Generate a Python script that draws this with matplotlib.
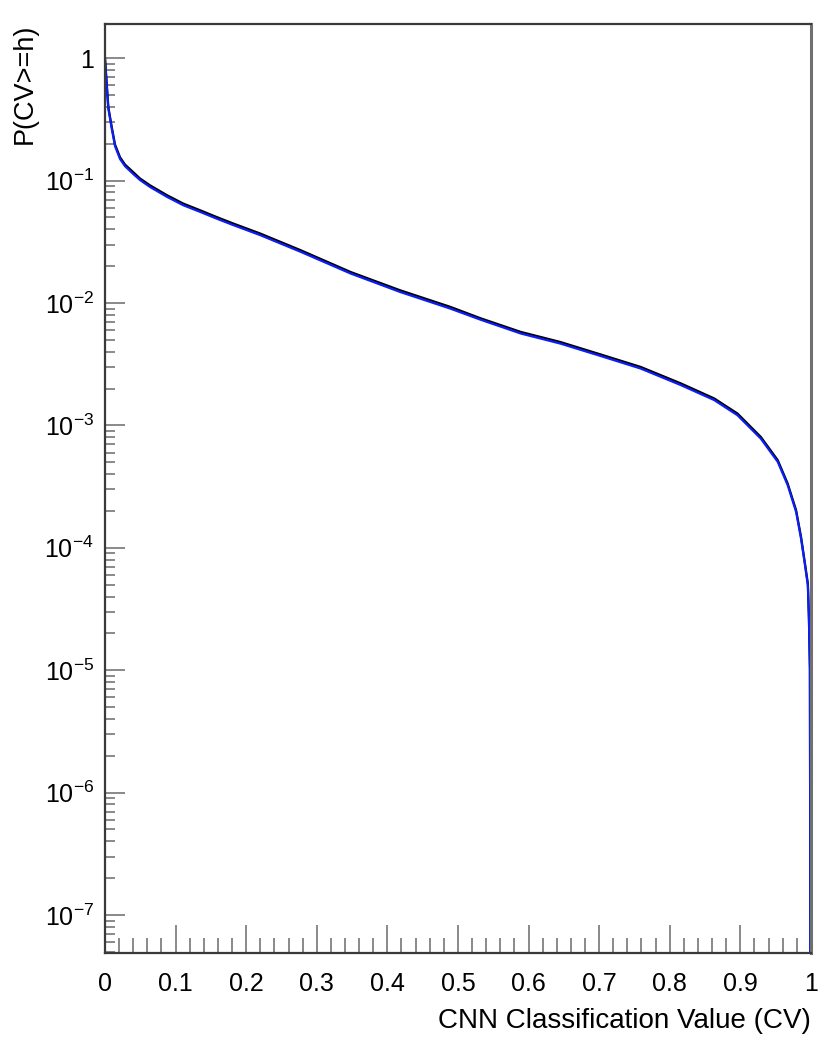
"""
CNN 分类值的累积分布 P(CV>=h)，ROOT 风格
"""

import math

import matplotlib
matplotlib.use('Agg')

import matplotlib.pyplot as plt
from matplotlib.ticker import FixedLocator, FuncFormatter, LogLocator, MultipleLocator, NullFormatter

plt.rcParams['font.family'] = ['Liberation Sans', 'DejaVu Sans']
plt.rcParams['mathtext.default'] = 'regular'

# 数据
cv = [0.0, 0.0024, 0.0047, 0.0095, 0.0142, 0.0213, 0.0284, 0.0401, 0.0496,
      0.0638, 0.0882, 0.111, 0.135, 0.158, 0.182, 0.220, 0.277, 0.348,
      0.418, 0.489, 0.532, 0.589, 0.645, 0.702, 0.759, 0.816, 0.863, 0.896,
      0.929, 0.953, 0.967, 0.979, 0.986, 0.9915, 0.9957, 0.9972, 0.9986, 1.0]
p_black = [1.0, 0.625, 0.40, 0.275, 0.197, 0.155, 0.135, 0.117, 0.104,
           0.0914, 0.0757, 0.0648, 0.0571, 0.0504, 0.0445, 0.0369, 0.027,
           0.0179, 0.0127, 0.0093, 0.0075, 0.0058, 0.0048, 0.0038, 0.0030,
           0.0022, 0.00166, 0.00125, 0.000805, 0.00052, 0.000336, 0.000203,
           0.000123, 7.5e-5, 5.1e-5, 2.7e-5, 1.05e-5, 1e-10]
p_blue = [0.97, 0.605, 0.388, 0.267, 0.191, 0.150, 0.131, 0.113, 0.101,
          0.0886, 0.0734, 0.0628, 0.0554, 0.0489, 0.0432, 0.0358, 0.0262,
          0.0174, 0.0123, 0.0090, 0.0073, 0.00563, 0.00466, 0.00369, 0.00291,
          0.00213, 0.00161, 0.00121, 0.00078, 0.000504, 0.000326, 0.000197,
          0.000119, 7.3e-5, 4.9e-5, 2.6e-5, 1.0e-5, 1e-10]

x_major = [0.0, 0.1, 0.2, 0.3, 0.4, 0.5, 0.6, 0.7, 0.8, 0.9, 1.0]
y_major = [1e-7, 1e-6, 1e-5, 1e-4, 1e-3, 1e-2, 1e-1, 1.0]

COLOR_FRAME = '#3a3a3a'
COLOR_TICK = '#808080'
COLOR_BLUE = '#0a1ef5'

fig = plt.figure(figsize=(8.3, 10.53), dpi=100)
ax = fig.add_axes([0.1265, 0.095, 0.8505, 0.8822])

ax.plot(cv, p_black, color='black', linewidth=1.6)
ax.plot(cv, p_blue, color=COLOR_BLUE, linewidth=1.6)

ax.set_yscale('log')
ax.set_xlim(0, 1)
ax.set_ylim(4.9e-8, 1.9)

# 坐标轴刻度
ax.xaxis.set_major_locator(FixedLocator(x_major))
ax.xaxis.set_minor_locator(MultipleLocator(0.02))
ax.xaxis.set_major_formatter(FuncFormatter(lambda v, pos: f'{v:g}'))

ax.yaxis.set_major_locator(FixedLocator(y_major))
ax.yaxis.set_minor_locator(LogLocator(base=10, subs=range(2, 10), numticks=20))
ax.yaxis.set_minor_formatter(NullFormatter())


def fmt_log(v, pos):
    e = round(math.log10(v))
    if e == 0:
        return '1'
    return r'$10^{%d}$' % e


ax.yaxis.set_major_formatter(FuncFormatter(fmt_log))

ax.tick_params(axis='both', which='both', direction='in', color=COLOR_TICK,
               width=1.3, labelsize=18, top=False, right=False)
ax.tick_params(axis='x', which='major', length=20, pad=14)
ax.tick_params(axis='x', which='minor', length=10.5)
ax.tick_params(axis='y', which='major', length=14.5, pad=8)
ax.tick_params(axis='y', which='minor', length=7.2)

for side, sp in ax.spines.items():
    sp.set_color(COLOR_FRAME)
    sp.set_linewidth(1.6)
ax.spines['right'].set_color('#707070')
ax.spines['right'].set_linewidth(2.2)

# 轴标题（右/上对齐）
ax.set_xlabel('CNN Classification Value (CV)', fontsize=20, loc='right', labelpad=8)
ax.set_ylabel('P(CV>=h)', fontsize=19.5, loc='top', labelpad=5)

fig.savefig('out.png', dpi=100, facecolor='white')
plt.close(fig)
